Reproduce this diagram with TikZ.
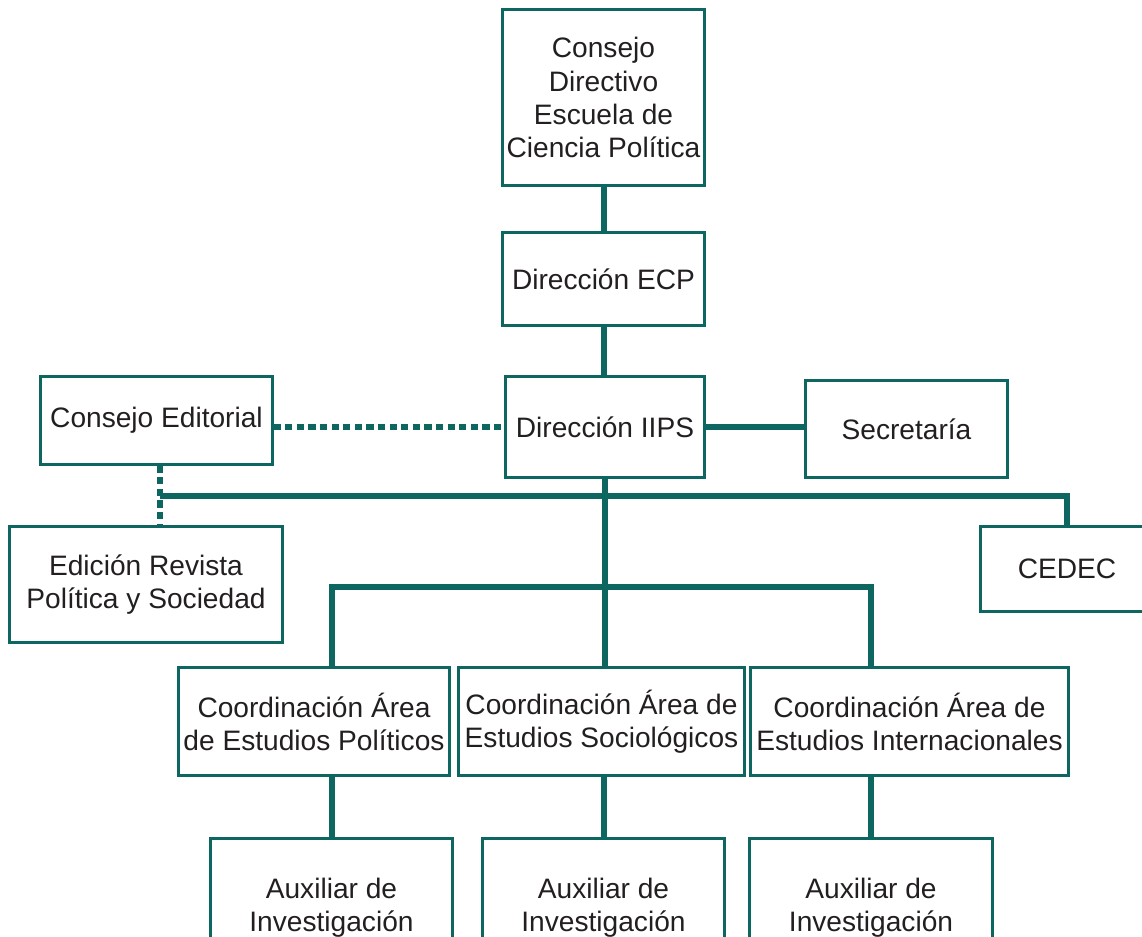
\documentclass[tikz,border=0pt]{standalone}
\usepackage{fontspec}
\setmainfont{Liberation Sans}
\usepackage{tikz}
\usetikzlibrary{calc}

\definecolor{iipsgreen}{RGB}{14,102,96}
\definecolor{iipstext}{RGB}{35,31,32}

\begin{document}
\begin{tikzpicture}[x=0.025cm,y=-0.025cm,
    unit/.style={draw=iipsgreen,line width=0.075cm,fill=white,inner sep=0pt,
        align=center,text=iipstext,font=\fontsize{20}{23.5}\selectfont},
    link/.style={draw=iipsgreen,line width=0.15cm},
    dotlink/.style={draw=iipsgreen,line width=0.14cm,dash pattern=on 0.18cm off 0.11cm}]
    \useasboundingbox (0,0) rectangle (1142,937);

    %boxes
    \node[unit,minimum width=5.025cm,minimum height=4.375cm] (cdir) at (603.5,97.5) {Consejo\\Directivo\\Escuela de\\Ciencia Política};
    \node[unit,minimum width=5.025cm,minimum height=2.3cm] (decp) at (603.5,279) {Dirección ECP};
    \node[unit,minimum width=4.95cm,minimum height=2.5cm] (diips) at (605,427) {Dirección IIPS};
    \node[unit,minimum width=5.025cm,minimum height=2.4cm] (secr) at (906.5,429) {Secretaría};
    \node[unit,minimum width=5.775cm,minimum height=2.175cm] (cedit) at (156.5,420.5) {Consejo Editorial};
    \node[unit,minimum width=6.8cm,minimum height=2.875cm] (edrev) at (146,584.5) {Edición Revista\\Política y Sociedad};
    \node[unit,minimum width=4.3cm,minimum height=2.1cm] (cedec) at (1067,569) {CEDEC};

    \node[unit,minimum width=6.75cm,minimum height=2.675cm] (coordpol) at (314,721.5) {Coordinación Área\\de Estudios Políticos};
    \node[unit,minimum width=7.125cm,minimum height=2.675cm] (coordsoc) at (601.5,721.5) {Coordinación Área de\\Estudios Sociológicos};
    \node[unit,minimum width=7.925cm,minimum height=2.675cm] (coordint) at (909.5,721.5) {Coordinación Área de\\Estudios Internacionales};

    \node[unit,minimum width=6.025cm,minimum height=3.45cm] (auxpol) at (331.5,908) {Auxiliar de\\Investigación};
    \node[unit,minimum width=6.025cm,minimum height=3.45cm] (auxsoc) at (603.5,908) {Auxiliar de\\Investigación};
    \node[unit,minimum width=6.05cm,minimum height=3.45cm] (auxint) at (871,908) {Auxiliar de\\Investigación};

    %junctions
    \coordinate (edj) at (160,496);
    \coordinate (bus) at (604,587);

    %lines
    \draw[link] (cdir.south) -- (decp.north);
    \draw[link] (decp.south) -- (decp.south |- diips.north);
    \draw[link] (diips.east) -- (diips.east -| secr.west);
    \draw[dotlink] (cedit.east |- diips.west) -- (diips.west);
    \draw[dotlink] (cedit.south -| edj) -- (edrev.north -| edj);
    \draw[link] (edj) -- (cedec.north |- edj) -- (cedec.north);
    \draw[link] (diips.south) -- (diips.south |- coordsoc.north);
    \draw[link] (auxpol.north |- coordpol.north) -- (auxpol.north |- bus) -- (auxint.north |- bus) -- (auxint.north |- coordint.north);

    \draw[link] (auxpol.north |- coordpol.south) -- (auxpol.north);
    \draw[link] (auxsoc.north |- coordsoc.south) -- (auxsoc.north);
    \draw[link] (auxint.north |- coordint.south) -- (auxint.north);
\end{tikzpicture}
\end{document}
